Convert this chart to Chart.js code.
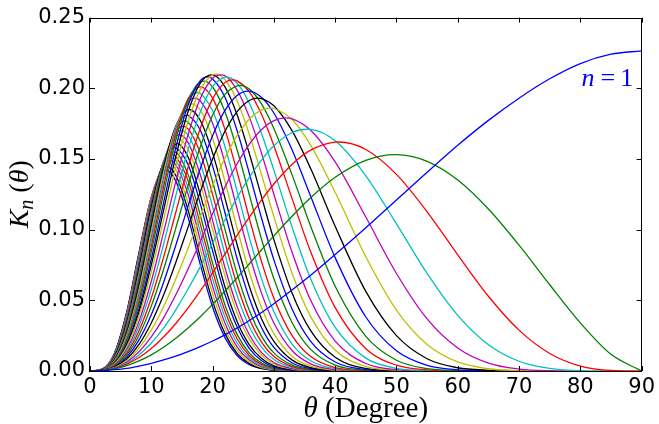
<!DOCTYPE html>
<html>
<head>
<meta charset="utf-8">
<title>K_n(theta)</title>
<script src="https://cdn.jsdelivr.net/npm/chart.js@4.4.1/dist/chart.umd.min.js"></script>
<style>
  html, body { margin: 0; padding: 0; background: #fff; }
  #wrap { width: 659px; height: 424px; }
</style>
</head>
<body>
<div id="wrap"><canvas id="kn" width="659" height="424"></canvas></div>
<script>
// angle grid in degrees, shared by all curves
const theta = [0, 2, 4, 6, 8, 10, 12, 14, 16, 18, 20, 22, 24, 26, 28, 30, 33, 36, 40, 45, 50, 55, 60, 65, 70, 75, 80, 85, 90];

// K_n(theta) on that grid, n = 1..36 (a curve stops once it is back on zero)
const k1 = [0, 0.0002, 0.0009, 0.0019, 0.0035, 0.0054, 0.0078, 0.0105, 0.0137, 0.0173, 0.0212, 0.0256, 0.0304, 0.0357, 0.0414, 0.0476, 0.0574, 0.0677, 0.0824, 0.1014, 0.1210, 0.1406, 0.1597, 0.1773, 0.1930, 0.2067, 0.2175, 0.2241, 0.2265];
const k2 = [0, 0.0003, 0.0016, 0.0038, 0.0071, 0.0114, 0.0168, 0.0232, 0.0304, 0.0384, 0.0471, 0.0564, 0.0660, 0.0759, 0.0858, 0.0956, 0.1097, 0.1226, 0.1370, 0.1490, 0.1530, 0.1483, 0.1351, 0.1146, 0.0890, 0.0610, 0.0340, 0.0118, 0];
const k3 = [0, 0.0004, 0.0019, 0.0049, 0.0095, 0.0159, 0.0240, 0.0336, 0.0446, 0.0566, 0.0694, 0.0827, 0.0960, 0.1089, 0.1211, 0.1323, 0.1463, 0.1562, 0.1619, 0.1567, 0.1391, 0.1126, 0.0822, 0.0529, 0.0289, 0.0124, 0.0035, 0.0004, 0];
const k4 = [0, 0.0003, 0.0020, 0.0056, 0.0114, 0.0198, 0.0304, 0.0433, 0.0580, 0.0738, 0.0904, 0.1068, 0.1226, 0.1370, 0.1494, 0.1593, 0.1687, 0.1709, 0.1628, 0.1381, 0.1041, 0.0690, 0.0393, 0.0186, 0.0069, 0.0018, 0.0002, 0];
const k5 = [0, 0.0003, 0.0022, 0.0064, 0.0136, 0.0241, 0.0376, 0.0539, 0.0722, 0.0916, 0.1112, 0.1299, 0.1466, 0.1605, 0.1708, 0.1771, 0.1784, 0.1703, 0.1479, 0.1089, 0.0690, 0.0369, 0.0163, 0.0056, 0.0014, 0.0002, 0];
const k6 = [0, 0.0003, 0.0024, 0.0074, 0.0162, 0.0289, 0.0455, 0.0651, 0.0868, 0.1093, 0.1310, 0.1506, 0.1665, 0.1783, 0.1847, 0.1857, 0.1777, 0.1598, 0.1264, 0.0808, 0.0431, 0.0188, 0.0064, 0.0016, 0.0003, 0];
const k7 = [0, 0.0004, 0.0027, 0.0085, 0.0188, 0.0340, 0.0537, 0.0768, 0.1018, 0.1269, 0.1500, 0.1694, 0.1835, 0.1914, 0.1927, 0.1876, 0.1697, 0.1432, 0.1024, 0.0563, 0.0250, 0.0087, 0.0023, 0.0005, 0];
const k8 = [0, 0.0004, 0.0030, 0.0098, 0.0220, 0.0398, 0.0626, 0.0890, 0.1166, 0.1432, 0.1665, 0.1842, 0.1949, 0.1980, 0.1935, 0.1825, 0.1561, 0.1236, 0.0802, 0.0382, 0.0143, 0.0040, 0.0008, 0];
const k9 = [0, 0.0004, 0.0034, 0.0113, 0.0253, 0.0459, 0.0718, 0.1011, 0.1311, 0.1586, 0.1809, 0.1957, 0.2017, 0.1994, 0.1888, 0.1716, 0.1384, 0.1024, 0.0599, 0.0245, 0.0076, 0.0017, 0.0003, 0];
const k10 = [0, 0.0005, 0.0038, 0.0126, 0.0284, 0.0516, 0.0804, 0.1123, 0.1441, 0.1717, 0.1925, 0.2040, 0.2052, 0.1975, 0.1814, 0.1594, 0.1216, 0.0843, 0.0448, 0.0158, 0.0041, 0.0008, 0];
const k11 = [0, 0.0005, 0.0042, 0.0140, 0.0319, 0.0577, 0.0895, 0.1240, 0.1565, 0.1833, 0.2011, 0.2079, 0.2036, 0.1894, 0.1679, 0.1421, 0.1014, 0.0652, 0.0308, 0.0091, 0.0019, 0.0003, 0];
const k12 = [0, 0.0005, 0.0045, 0.0154, 0.0351, 0.0635, 0.0980, 0.1341, 0.1671, 0.1927, 0.2071, 0.2090, 0.1987, 0.1796, 0.1538, 0.1250, 0.0836, 0.0500, 0.0211, 0.0053, 0.0009, 0];
const k13 = [0, 0.0006, 0.0051, 0.0173, 0.0391, 0.0701, 0.1067, 0.1442, 0.1765, 0.1992, 0.2095, 0.2062, 0.1912, 0.1673, 0.1387, 0.1091, 0.0688, 0.0385, 0.0147, 0.0032, 0.0005, 0];
const k14 = [0, 0.0006, 0.0054, 0.0184, 0.0419, 0.0750, 0.1136, 0.1518, 0.1834, 0.2036, 0.2095, 0.2012, 0.1813, 0.1537, 0.1230, 0.0929, 0.0548, 0.0285, 0.0097, 0.0018, 0.0003, 0];
const k15 = [0, 0.0006, 0.0055, 0.0193, 0.0443, 0.0791, 0.1190, 0.1579, 0.1880, 0.2054, 0.2066, 0.1938, 0.1700, 0.1397, 0.1079, 0.0786, 0.0435, 0.0210, 0.0064, 0.0010, 0];
const k16 = [0, 0.0007, 0.0060, 0.0210, 0.0477, 0.0842, 0.1254, 0.1633, 0.1910, 0.2045, 0.2009, 0.1836, 0.1565, 0.1246, 0.0930, 0.0653, 0.0340, 0.0153, 0.0042, 0.0006, 0];
const k17 = [0, 0.0007, 0.0062, 0.0220, 0.0500, 0.0882, 0.1300, 0.1670, 0.1925, 0.2010, 0.1930, 0.1711, 0.1409, 0.1080, 0.0772, 0.0515, 0.0248, 0.0102, 0.0024, 0.0003, 0];
const k18 = [0, 0.0007, 0.0067, 0.0235, 0.0529, 0.0923, 0.1342, 0.1697, 0.1920, 0.1963, 0.1841, 0.1590, 0.1272, 0.0944, 0.0652, 0.0419, 0.0189, 0.0073, 0.0016, 0.0002, 0];
const k19 = [0, 0.0007, 0.0067, 0.0239, 0.0541, 0.0943, 0.1363, 0.1711, 0.1902, 0.1910, 0.1752, 0.1475, 0.1147, 0.0824, 0.0549, 0.0340, 0.0143, 0.0051, 0.0010, 0];
const k20 = [0, 0.0007, 0.0072, 0.0256, 0.0574, 0.0988, 0.1405, 0.1725, 0.1883, 0.1845, 0.1647, 0.1344, 0.1010, 0.0699, 0.0447, 0.0264, 0.0103, 0.0034, 0.0006, 0];
const k21 = [0, 0.0008, 0.0077, 0.0269, 0.0599, 0.1019, 0.1429, 0.1733, 0.1849, 0.1772, 0.1543, 0.1226, 0.0893, 0.0598, 0.0368, 0.0210, 0.0077, 0.0023, 0.0004, 0];
const k22 = [0, 0.0008, 0.0077, 0.0271, 0.0605, 0.1028, 0.1434, 0.1721, 0.1809, 0.1703, 0.1451, 0.1123, 0.0795, 0.0515, 0.0306, 0.0167, 0.0057, 0.0016, 0];
const k23 = [0, 0.0008, 0.0081, 0.0286, 0.0634, 0.1059, 0.1459, 0.1711, 0.1760, 0.1623, 0.1339, 0.1005, 0.0687, 0.0428, 0.0245, 0.0128, 0.0041, 0.0010, 0];
const k24 = [0, 0.0008, 0.0085, 0.0296, 0.0649, 0.1078, 0.1461, 0.1695, 0.1713, 0.1541, 0.1249, 0.0914, 0.0608, 0.0368, 0.0203, 0.0102, 0.0031, 0.0007, 0];
const k25 = [0, 0.0009, 0.0089, 0.0308, 0.0671, 0.1102, 0.1473, 0.1682, 0.1669, 0.1470, 0.1163, 0.0829, 0.0535, 0.0313, 0.0167, 0.0081, 0.0023, 0.0005, 0];
const k26 = [0, 0.0009, 0.0089, 0.0313, 0.0684, 0.1117, 0.1478, 0.1662, 0.1616, 0.1388, 0.1066, 0.0734, 0.0457, 0.0256, 0.0130, 0.0060, 0.0016, 0];
const k27 = [0, 0.0009, 0.0092, 0.0321, 0.0695, 0.1126, 0.1474, 0.1638, 0.1570, 0.1327, 0.1001, 0.0676, 0.0411, 0.0225, 0.0111, 0.0050, 0.0013, 0];
const k28 = [0, 0.0009, 0.0097, 0.0335, 0.0719, 0.1150, 0.1481, 0.1606, 0.1514, 0.1248, 0.0915, 0.0598, 0.0351, 0.0185, 0.0088, 0.0037, 0.0009, 0];
const k29 = [0, 0.0010, 0.0099, 0.0342, 0.0729, 0.1155, 0.1471, 0.1579, 0.1460, 0.1182, 0.0850, 0.0543, 0.0311, 0.0159, 0.0073, 0.0030, 0.0007, 0];
const k30 = [0, 0.0010, 0.0104, 0.0357, 0.0756, 0.1174, 0.1468, 0.1547, 0.1391, 0.1102, 0.0762, 0.0470, 0.0259, 0.0127, 0.0056, 0.0022, 0.0005, 0];
const k31 = [0, 0.0011, 0.0108, 0.0368, 0.0769, 0.1190, 0.1469, 0.1515, 0.1347, 0.1039, 0.0707, 0.0426, 0.0228, 0.0108, 0.0046, 0.0017, 0.0004, 0];
const k32 = [0, 0.0011, 0.0112, 0.0380, 0.0787, 0.1203, 0.1466, 0.1489, 0.1300, 0.0982, 0.0653, 0.0383, 0.0198, 0.0092, 0.0038, 0.0014, 0.0003, 0];
const k33 = [0, 0.0012, 0.0116, 0.0392, 0.0804, 0.1216, 0.1461, 0.1459, 0.1250, 0.0924, 0.0599, 0.0342, 0.0171, 0.0077, 0.0030, 0.0011, 0];
const k34 = [0, 0.0012, 0.0120, 0.0403, 0.0820, 0.1226, 0.1452, 0.1425, 0.1189, 0.0865, 0.0547, 0.0303, 0.0147, 0.0064, 0.0024, 0.0009, 0];
const k35 = [0, 0.0013, 0.0124, 0.0414, 0.0833, 0.1230, 0.1435, 0.1383, 0.1138, 0.0802, 0.0494, 0.0266, 0.0125, 0.0052, 0.0019, 0.0007, 0];
const k36 = [0, 0.0013, 0.0127, 0.0419, 0.0839, 0.1226, 0.1413, 0.1343, 0.1087, 0.0752, 0.0453, 0.0238, 0.0110, 0.0044, 0.0016, 0.0006, 0];

// top of each hump (angle, height); n = 1 keeps rising up to 90 degrees
const peakTheta = [null, 49.8, 40.6, 35.4, 31.9, 29.4, 27.4, 25.8, 24.4, 23.3, 22.2, 21.3, 20.5, 19.8, 19.2, 18.6, 18.0, 17.5,
  17.1, 16.6, 16.2, 15.9, 15.5, 15.2, 14.9, 14.6, 14.4, 14.1, 13.9, 13.6, 13.4, 13.2, 13.0, 12.8, 12.6, 12.45];
const peakK = [null, 0.153, 0.162, 0.171, 0.179, 0.186, 0.193, 0.198, 0.202, 0.206, 0.208, 0.2095, 0.210, 0.2095, 0.208, 0.205, 0.201, 0.197,
  0.193, 0.189, 0.185, 0.181, 0.177, 0.173, 0.170, 0.167, 0.164, 0.161, 0.158, 0.155, 0.153, 0.151, 0.149, 0.147, 0.1445, 0.142];

const xTickLabels = ["0", "10", "20", "30", "40", "50", "60", "70", "80", "90"];
const yTickLabels = ["0.00", "0.05", "0.10", "0.15", "0.20", "0.25"];

// b g r c m y k colour cycle
const lineColors = ["#0000ff", "#008000", "#ff0000", "#00bfbf", "#bf00bf", "#bfbf00", "#000000"];

const curves = [k1, k2, k3, k4, k5, k6, k7, k8, k9, k10, k11, k12, k13, k14, k15, k16, k17, k18,
  k19, k20, k21, k22, k23, k24, k25, k26, k27, k28, k29, k30, k31, k32, k33, k34, k35, k36];

// grid points plus the hump top, sorted by angle
function toPoints(vals, i) {
  const pts = vals.map((v, j) => ({ x: theta[j], y: v }));
  const px = peakTheta[i];
  if (px !== null && !pts.some((p) => p.x === px)) {
    pts.push({ x: px, y: peakK[i] });
    pts.sort((a, b) => a.x - b.x);
  }
  return pts;
}

const datasets = curves.map((vals, i) => ({
  label: "n=" + (i + 1),
  data: toPoints(vals, i),
  borderColor: lineColors[i % lineColors.length],
  borderWidth: 1.3,
  pointRadius: 0,
  cubicInterpolationMode: "monotone",
  fill: false,
}));

// box around the plot with inward ticks on all four sides
const frameTicks = {
  id: "frameTicks",
  afterDatasetsDraw(chart) {
    const { ctx, chartArea: a, scales } = chart;
    const len = 5;
    ctx.save();
    ctx.strokeStyle = "#000";
    ctx.lineWidth = 1;
    ctx.beginPath();
    scales.x.ticks.forEach((t) => {
      const px = Math.round(scales.x.getPixelForValue(t.value)) + 0.5;
      ctx.moveTo(px, a.bottom);
      ctx.lineTo(px, a.bottom - len);
      ctx.moveTo(px, a.top);
      ctx.lineTo(px, a.top + len);
    });
    scales.y.ticks.forEach((t) => {
      const py = Math.round(scales.y.getPixelForValue(t.value)) + 0.5;
      ctx.moveTo(a.left, py);
      ctx.lineTo(a.left + len, py);
      ctx.moveTo(a.right, py);
      ctx.lineTo(a.right - len, py);
    });
    ctx.stroke();
    ctx.strokeRect(Math.round(a.left) - 0.5, Math.round(a.top) + 0.5,
      Math.round(a.right - a.left), Math.round(a.bottom - a.top));
    ctx.restore();
  },
};

// axis titles and the n=1 note, with italic math symbols
const axisText = {
  id: "axisText",
  afterDraw(chart) {
    const { ctx, chartArea: a, scales } = chart;
    const serif = '"Liberation Serif", "DejaVu Serif", serif';
    ctx.save();
    ctx.fillStyle = "#000";
    ctx.textBaseline = "alphabetic";
    ctx.textAlign = "left";

    // x title
    const xs = 29;
    ctx.font = `italic ${xs}px ${serif}`;
    const wTheta = ctx.measureText("θ").width;
    ctx.font = `${xs}px ${serif}`;
    const wRest = ctx.measureText(" (Degree)").width;
    const x0 = (a.left + a.right) / 2 - (wTheta + wRest) / 2;
    ctx.font = `italic ${xs}px ${serif}`;
    ctx.fillText("θ", x0, 417);
    ctx.font = `${xs}px ${serif}`;
    ctx.fillText(" (Degree)", x0 + wTheta, 417);

    // y title, rotated
    const ys = 28;
    const parts = [
      { t: "K", f: `italic ${ys}px ${serif}`, dy: 0 },
      { t: "n", f: `italic ${Math.round(ys * 0.7)}px ${serif}`, dy: 5 },
      { t: " (", f: `${ys}px ${serif}`, dy: 0 },
      { t: "θ", f: `italic ${ys}px ${serif}`, dy: 0 },
      { t: ")", f: `${ys}px ${serif}`, dy: 0 },
    ];
    let total = 0;
    parts.forEach((p) => { ctx.font = p.f; p.w = ctx.measureText(p.t).width; total += p.w; });
    ctx.save();
    ctx.translate(28, (a.top + a.bottom) / 2);
    ctx.rotate(-Math.PI / 2);
    let cx = -total / 2;
    parts.forEach((p) => { ctx.font = p.f; ctx.fillText(p.t, cx, p.dy); cx += p.w; });
    ctx.restore();

    // label for the first curve
    const ns = 26;
    let lx = scales.x.getPixelForValue(80.2);
    const ly = scales.y.getPixelForValue(0.2015);
    ctx.fillStyle = lineColors[0];
    ctx.font = `italic ${ns}px ${serif}`;
    ctx.fillText("n", lx, ly);
    lx += ctx.measureText("n").width + 6;
    ctx.font = `${ns}px ${serif}`;
    ctx.fillText("=", lx, ly);
    lx += ctx.measureText("=").width + 5;
    ctx.fillText("1", lx, ly);
    ctx.restore();
  },
};

const tickFont = { family: '"DejaVu Sans", sans-serif', size: 21 };

new Chart(document.getElementById("kn"), {
  type: "line",
  data: { datasets: datasets },
  options: {
    responsive: false,
    animation: false,
    devicePixelRatio: 1,
    events: [],
    layout: { padding: { top: 15, right: 14, left: 0, bottom: 0 } },
    plugins: { legend: { display: false }, tooltip: { enabled: false } },
    scales: {
      x: {
        type: "linear",
        min: 0,
        max: 90,
        grid: { display: false, drawTicks: false },
        border: { display: false },
        ticks: {
          stepSize: 10,
          padding: 4,
          color: "#000",
          font: tickFont,
          maxRotation: 0,
          callback: (v, i) => xTickLabels[i],
        },
        afterFit: (s) => { s.height = 53; },
      },
      y: {
        min: 0,
        max: 0.25,
        grid: { display: false, drawTicks: false },
        border: { display: false },
        ticks: {
          stepSize: 0.05,
          padding: 5,
          color: "#000",
          font: tickFont,
          callback: (v, i) => yTickLabels[i],
        },
        afterFit: (s) => { s.width = 90; },
      },
    },
  },
  plugins: [frameTicks, axisText],
});
</script>
</body>
</html>
